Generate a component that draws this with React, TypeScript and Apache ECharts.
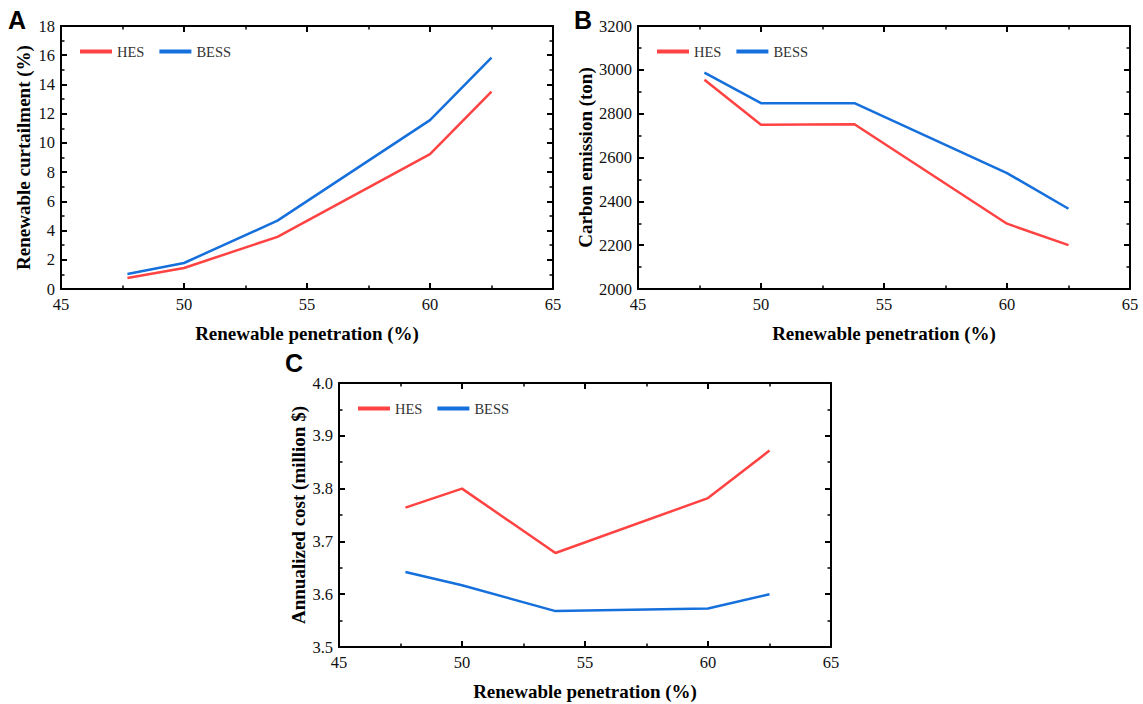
import React, { useEffect, useRef } from "react";
import * as echarts from "echarts";

const xValues = [47.7, 50, 53.8, 60, 62.5];
const curtailHES = [0.75, 1.44, 3.57, 9.23, 13.51];
const curtailBESS = [1.03, 1.78, 4.68, 11.56, 15.84];
const emissionHES = [2955, 2749, 2752, 2298, 2200];
const emissionBESS = [2987, 2848, 2848, 2529, 2366];
const costHES = [3.764, 3.8, 3.678, 3.782, 3.872];
const costBESS = [3.642, 3.617, 3.568, 3.573, 3.6];

const xTitle = "Renewable penetration (%)";
const yTitles = ["Renewable curtailment (%)", "Carbon emission (ton)", "Annualized cost (million $)"];
const panelLetters = ["A", "B", "C"];
const seriesNames = ["HES", "BESS"];

const RED = "#ff4242";
const BLUE = "#1670dc";
const SERIF = "'Liberation Serif', 'Times New Roman', serif";

const grids = [
  { left: 61, top: 26, width: 492, height: 263 },
  { left: 638, top: 26, width: 492, height: 263 },
  { left: 339, top: 383, width: 492, height: 264 },
];

const yScales = [
  { min: 0, max: 18, interval: 2, digits: 0, nameGap: 28 },
  { min: 2000, max: 3200, interval: 200, digits: 0, nameGap: 42 },
  { min: 3.5, max: 4.0, interval: 0.1, digits: 1, nameGap: 31 },
];

const axisLine = { show: true, onZero: false, lineStyle: { color: "#000", width: 2 } };
const tick = { show: true, inside: true, length: 6, lineStyle: { color: "#000", width: 2 } };
const minorTick = { show: true, splitNumber: 2, length: 3.5, lineStyle: { color: "#000", width: 1.5 } };

function zip(xs: number[], ys: number[]) {
  return xs.map((x, i) => [x, ys[i]]);
}

export default function App() {
  const ref = useRef<HTMLDivElement>(null);
  useEffect(() => {
    if (!ref.current) return;
    const chart = echarts.init(ref.current, null, { renderer: "svg" });
    const xAxis: any[] = [];
    const yAxis: any[] = [];
    grids.forEach((g, i) => {
      const base = { type: "value", gridIndex: i, min: 45, max: 65, interval: 5, splitLine: { show: false }, axisLine, axisTick: tick, minorTick };
      xAxis.push({
        ...base,
        position: "bottom",
        name: xTitle,
        nameLocation: "middle",
        nameGap: 35,
        nameTextStyle: { fontFamily: SERIF, fontWeight: "bold", fontSize: 19, color: "#000" },
        axisLabel: { show: true, fontFamily: SERIF, fontSize: 16.5, color: "#111", margin: 7 },
      });
      xAxis.push({ ...base, position: "top", axisLabel: { show: false } });
      const ys = yScales[i];
      const ybase = { type: "value", gridIndex: i, min: ys.min, max: ys.max, interval: ys.interval, splitLine: { show: false }, axisLine, axisTick: tick, minorTick };
      yAxis.push({
        ...ybase,
        position: "left",
        name: yTitles[i],
        nameLocation: "middle",
        nameGap: ys.nameGap,
        nameTextStyle: { fontFamily: SERIF, fontWeight: "bold", fontSize: 19, color: "#000" },
        axisLabel: { show: true, fontFamily: SERIF, fontSize: 16.5, color: "#111", margin: 6, formatter: (v: number) => v.toFixed(ys.digits) },
      });
      yAxis.push({ ...ybase, position: "right", axisLabel: { show: false } });
    });
    const data = [
      [curtailHES, curtailBESS],
      [emissionHES, emissionBESS],
      [costHES, costBESS],
    ];
    const series: any[] = [];
    data.forEach((pair, i) => {
      pair.forEach((ys, k) => {
        series.push({
          type: "line",
          name: seriesNames[k],
          xAxisIndex: i * 2,
          yAxisIndex: i * 2,
          data: zip(xValues, ys),
          symbol: "none",
          lineStyle: { width: 2.5, color: k === 0 ? RED : BLUE },
          itemStyle: { color: k === 0 ? RED : BLUE },
        });
      });
    });
    const legendPos = [
      { left: 80, top: 44 },
      { left: 657, top: 44 },
      { left: 358, top: 401 },
    ];
    const legend = legendPos.map((p) => ({
      ...p,
      padding: 0,
      data: seriesNames,
      icon: "rect",
      itemWidth: 32,
      itemHeight: 4,
      itemGap: 15,
      selectedMode: false,
      textStyle: { fontFamily: SERIF, fontSize: 14.5, color: "#333" },
    }));
    const letterPos = [
      { x: 8, y: 7 },
      { x: 574, y: 7 },
      { x: 285, y: 350 },
    ];
    chart.setOption({
      animation: false,
      backgroundColor: "#fff",
      grid: grids.map((g) => ({ ...g, containLabel: false })),
      xAxis,
      yAxis,
      series,
      legend,
      graphic: letterPos.map((p, i) => ({
        type: "text",
        x: p.x,
        y: p.y,
        style: { text: panelLetters[i], font: "bold 25px 'Liberation Sans', Arial, sans-serif", fill: "#000" },
      })),
    });
    return () => chart.dispose();
  }, []);
  return <div ref={ref} style={{ position: "fixed", left: 0, top: 0, width: 1143, height: 704 }} />;
}
